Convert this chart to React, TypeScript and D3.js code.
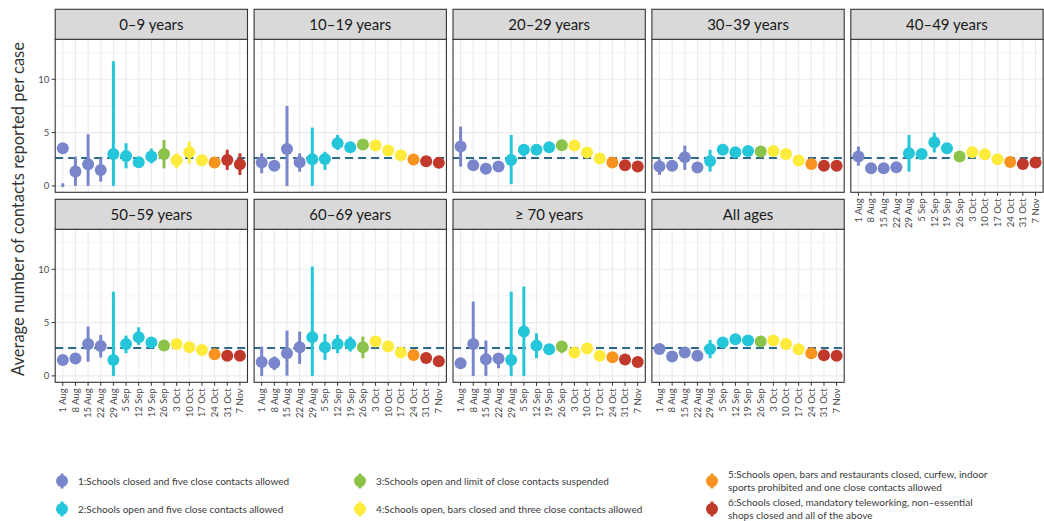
import React from 'react';
import * as d3 from 'd3';

// Weekly periods on the x axis
const weeks = ['1 Aug', '8 Aug', '15 Aug', '22 Aug', '29 Aug', '5 Sep', '12 Sep', '19 Sep', '26 Sep', '3 Oct', '10 Oct', '17 Oct', '24 Oct', '31 Oct', '7 Nov'];
// Restriction phase in force for each week (1..6)
const weekPhase = [1, 1, 1, 1, 2, 2, 2, 2, 3, 4, 4, 4, 5, 6, 6];

const phaseColours = ['#7986CB', '#26C6DA', '#8BC34A', '#FFEB3B', '#F7931E', '#C0392B'];
const phaseLabels: string[][] = [
  ['1:Schools closed and five close contacts allowed'],
  ['2:Schools open and five close contacts allowed'],
  ['3:Schools open and limit of close contacts suspended'],
  ['4:Schools open, bars closed and three close contacts allowed'],
  ['5:Schools open, bars and restaurants closed, curfew, indoor', 'sports prohibited and one close contacts allowed'],
  ['6:Schools closed, mandatory teleworking, non\u2013essential', 'shops closed and all of the above'],
];

// Overall average number of contacts per case (dashed reference line)
const overallMean = 2.62;

const yTicks = [0, 5, 10];
const yMinorTicks = [2.5, 7.5, 12.5];

// [mean, lower, upper] per week
const age0to9: [number, number, number][] = [
  [3.53, -0.1, 0.25], [1.34, 0, 2.75], [2.03, 0, 4.84], [1.5, 0.4, 2.6], [3.0, 0, 11.7],
  [2.8, 1.65, 4.0], [2.22, 1.97, 2.47], [2.75, 2.1, 3.5], [3.0, 1.65, 4.3], [2.4, 1.65, 3.06],
  [3.15, 2.1, 4.15], [2.4, 2.15, 2.65], [2.2, 1.95, 2.45], [2.44, 1.5, 3.4], [2.03, 1.03, 3.06],
];
const age10to19: [number, number, number][] = [
  [2.19, 1.19, 3.06], [1.9, 1.65, 2.15], [3.47, 0, 7.5], [2.22, 1.34, 3.06], [2.5, 0, 5.47],
  [2.53, 1.5, 3.2], [4.0, 3.37, 4.78], [3.63, 3.38, 3.88], [3.88, 3.63, 4.13], [3.78, 3.53, 4.03],
  [3.31, 3.06, 3.56], [2.88, 2.63, 3.13], [2.47, 2.22, 2.72], [2.31, 2.06, 2.56], [2.16, 1.91, 2.41],
];
const age20to29: [number, number, number][] = [
  [3.69, 1.81, 5.56], [1.94, 1.69, 2.19], [1.6, 1.35, 1.85], [1.81, 1.56, 2.06], [2.44, 0.16, 4.78],
  [3.38, 2.75, 3.84], [3.38, 3.13, 3.63], [3.63, 3.38, 3.88], [3.81, 3.56, 4.06], [3.78, 3.53, 4.03],
  [3.13, 2.88, 3.38], [2.56, 2.31, 2.81], [2.19, 1.94, 2.44], [1.94, 1.69, 2.19], [1.81, 1.56, 2.06],
];
const age30to39: [number, number, number][] = [
  [1.81, 1.03, 2.5], [1.88, 1.63, 2.13], [2.69, 1.5, 3.78], [1.72, 1.47, 1.97], [2.34, 1.34, 3.38],
  [3.38, 2.9, 3.94], [3.16, 2.91, 3.41], [3.28, 3.03, 3.53], [3.22, 2.97, 3.47], [3.28, 3.03, 3.53],
  [3.0, 2.75, 3.25], [2.38, 2.13, 2.63], [2.06, 1.81, 2.31], [1.9, 1.65, 2.15], [1.9, 1.65, 2.15],
];
const age40to49: [number, number, number][] = [
  [2.75, 1.9, 3.69], [1.66, 1.41, 1.91], [1.66, 1.41, 1.91], [1.75, 1.5, 2.0], [3.06, 1.34, 4.78],
  [3.0, 2.75, 3.25], [4.09, 3.13, 5.0], [3.53, 3.28, 3.78], [2.75, 2.5, 3.0], [3.16, 2.91, 3.41],
  [2.97, 2.72, 3.22], [2.5, 2.25, 2.75], [2.25, 2.0, 2.5], [2.06, 1.81, 2.31], [2.19, 1.94, 2.44],
];
const age50to59: [number, number, number][] = [
  [1.5, 1.25, 1.75], [1.63, 1.38, 1.88], [3.0, 1.34, 4.63], [2.81, 1.72, 3.84], [1.5, 0, 7.9],
  [3.0, 2.13, 3.78], [3.63, 2.9, 4.56], [3.13, 2.88, 3.38], [2.84, 2.59, 3.09], [3.0, 2.75, 3.25],
  [2.69, 2.44, 2.94], [2.44, 2.19, 2.69], [2.03, 1.78, 2.28], [1.9, 1.65, 2.15], [1.9, 1.65, 2.15],
];
const age60to69: [number, number, number][] = [
  [1.31, 0, 2.75], [1.22, 0.56, 1.81], [2.13, 0.03, 4.25], [2.69, 1.13, 4.16], [3.63, 0, 10.25],
  [2.69, 1.5, 3.94], [3.0, 2.13, 3.84], [3.0, 2.28, 3.69], [2.69, 1.66, 3.69], [3.22, 2.97, 3.47],
  [2.75, 2.5, 3.0], [2.19, 1.94, 2.44], [1.97, 1.72, 2.22], [1.69, 1.44, 1.94], [1.38, 1.13, 1.63],
];
const age70plus: [number, number, number][] = [
  [1.19, 0.94, 1.44], [3.0, 0, 6.97], [1.56, 0, 3.31], [1.63, 0.72, 2.13], [1.5, 0, 7.9],
  [4.16, 0, 8.38], [2.84, 1.66, 4.0], [2.5, 2.25, 2.75], [2.75, 2.13, 3.22], [2.19, 1.94, 2.44],
  [2.56, 2.31, 2.81], [1.9, 1.65, 2.15], [1.75, 1.5, 2.0], [1.53, 1.28, 1.78], [1.31, 1.06, 1.56],
];
const allAges: [number, number, number][] = [
  [2.53, 2.06, 3.0], [1.81, 1.56, 2.06], [2.19, 1.94, 2.44], [1.88, 1.63, 2.13], [2.53, 1.66, 3.38],
  [3.13, 2.88, 3.38], [3.44, 3.19, 3.69], [3.31, 3.06, 3.56], [3.22, 2.97, 3.47], [3.31, 3.06, 3.56],
  [3.0, 2.75, 3.25], [2.5, 2.25, 2.75], [2.13, 1.88, 2.38], [1.94, 1.69, 2.19], [1.9, 1.65, 2.15],
];

const panelTitles = ['0\u20139 years', '10\u201319 years', '20\u201329 years', '30\u201339 years', '40\u201349 years', '50\u201359 years', '60\u201369 years', '\u2265 70 years', 'All ages'];
const panelData = [age0to9, age10to19, age20to29, age30to39, age40to49, age50to59, age60to69, age70plus, allAges];

const W = 1044;
const H = 521;
const FONT = "Lato, 'Open Sans', sans-serif";

const left0 = 55.2;
const panelW = 192.3;
const gapX = 6.6;
const rowTop = [9.3, 199.3];
const stripH = 30;
const plotH = 153;
const nCols = 5;

function Panel({ idx }: { idx: number }) {
  const col = idx % nCols;
  const row = Math.floor(idx / nCols);
  const x0 = left0 + col * (panelW + gapX);
  const stripTop = rowTop[row];
  const top = stripTop + stripH;
  const bottom = top + plotH;
  const data = panelData[idx];
  const showX = row === 1 || idx + nCols >= panelData.length;
  const showY = col === 0;

  const x = d3.scalePoint<string>().domain(weeks).range([x0, x0 + panelW]).padding(0.6);
  const y = d3.scaleLinear().domain([-0.6, 13.75]).range([bottom, top]);

  return (
    <g>
      <rect x={x0} y={top} width={panelW} height={plotH} fill="#fff" />
      {yMinorTicks.map((t) => (
        <line key={'ym' + t} x1={x0} x2={x0 + panelW} y1={y(t)} y2={y(t)} stroke="#ececec" strokeWidth={0.6} />
      ))}
      {yTicks.map((t) => (
        <line key={'y' + t} x1={x0} x2={x0 + panelW} y1={y(t)} y2={y(t)} stroke="#ebebeb" strokeWidth={1.1} />
      ))}
      {weeks.map((w) => (
        <line key={'x' + w} x1={x(w)!} x2={x(w)!} y1={top} y2={bottom} stroke="#ebebeb" strokeWidth={1.1} />
      ))}
      <line x1={x0} x2={x0 + panelW} y1={y(overallMean)} y2={y(overallMean)} stroke="#2B6A8C" strokeWidth={2} strokeDasharray="8,5" />
      {data.map((d, i) => {
        const c = phaseColours[weekPhase[i] - 1];
        const cx = x(weeks[i])!;
        return (
          <g key={i}>
            <line x1={cx} x2={cx} y1={y(d[1])} y2={y(d[2])} stroke={c} strokeWidth={3} />
            <circle cx={cx} cy={y(d[0])} r={6} fill={c} />
          </g>
        );
      })}
      <rect x={x0} y={top} width={panelW} height={plotH} fill="none" stroke="#333" strokeWidth={1.1} />
      <rect x={x0} y={stripTop} width={panelW} height={stripH} fill="#d9d9d9" stroke="#333" strokeWidth={1.1} />
      <text x={x0 + panelW / 2} y={stripTop + stripH / 2} dy="0.35em" textAnchor="middle" fontSize={15} fill="#1a1a1a" fontFamily={FONT}>
        {panelTitles[idx]}
      </text>
      {showY &&
        yTicks.map((t) => (
          <g key={'yt' + t}>
            <line x1={x0 - 3.5} x2={x0} y1={y(t)} y2={y(t)} stroke="#333" strokeWidth={1} />
            <text x={x0 - 6} y={y(t)} dy="0.35em" textAnchor="end" fontSize={9.5} fill="#4d4d4d" fontFamily={FONT}>
              {t}
            </text>
          </g>
        ))}
      {showX &&
        weeks.map((w) => (
          <g key={'xt' + w}>
            <line x1={x(w)!} x2={x(w)!} y1={bottom} y2={bottom + 3.5} stroke="#333" strokeWidth={1} />
            <text
              transform={`translate(${x(w)!},${bottom + 6}) rotate(-90)`}
              dy="0.35em"
              textAnchor="end"
              fontSize={9.5}
              fill="#4d4d4d"
              fontFamily={FONT}
            >
              {w}
            </text>
          </g>
        ))}
    </g>
  );
}

function Legend() {
  const colX = [62, 360, 712];
  const rowY = [481, 509];
  return (
    <g>
      {phaseLabels.map((lines, i) => {
        const cx = colX[Math.floor(i / 2)];
        const cy = rowY[i % 2];
        const c = phaseColours[i];
        return (
          <g key={i}>
            <line x1={cx} x2={cx} y1={cy - 7.5} y2={cy + 7.5} stroke={c} strokeWidth={3} />
            <circle cx={cx} cy={cy} r={6} fill={c} />
            {lines.map((l, j) => (
              <text
                key={j}
                x={cx + 16}
                y={cy + (j - (lines.length - 1) / 2) * 13}
                dy="0.35em"
                fontSize={10}
                fill="#3a3a3a"
                fontFamily={FONT}
              >
                {l}
              </text>
            ))}
          </g>
        );
      })}
    </g>
  );
}

export default function App() {
  return (
    <svg width={W} height={H} style={{ position: 'absolute', left: 0, top: 0, background: '#fff' }}>
      <rect width={W} height={H} fill="#fff" />
      {panelData.map((_, i) => (
        <Panel key={i} idx={i} />
      ))}
      <text
        transform="translate(18,209) rotate(-90)"
        dy="0.35em"
        textAnchor="middle"
        fontSize={16.5}
        fill="#333"
        fontFamily={FONT}
      >
        Average number of contacts reported per case
      </text>
      <Legend />
    </svg>
  );
}
